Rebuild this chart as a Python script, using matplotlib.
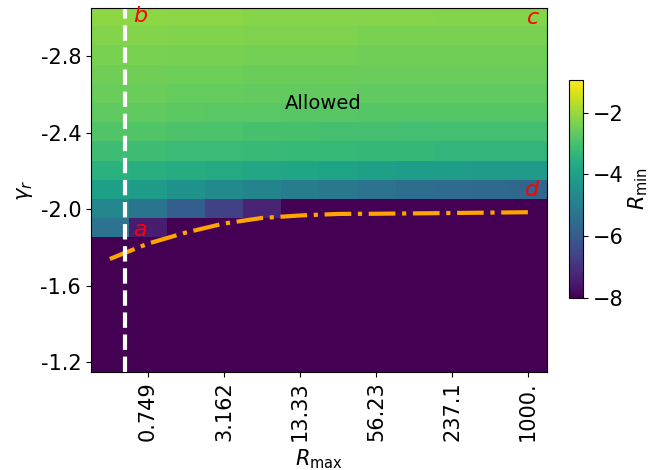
import matplotlib
matplotlib.use('Agg')
import matplotlib.pyplot as plt
import numpy as np

# grid axes: gamma_r rows (top to bottom) and R_max columns
gamma_r = [-3.0, -2.9, -2.8, -2.7, -2.6, -2.5, -2.4, -2.3, -2.2, -2.1,
           -2.0, -1.9, -1.8, -1.7, -1.6, -1.5, -1.4, -1.3, -1.2]
r_max_ticklabels = ['0.749', '3.162', '13.33', '56.23', '237.1', '1000.']
gamma_ticks = [-2.8, -2.4, -2.0, -1.6, -1.2]

# log10 R_min on the (gamma_r, R_max) grid, floored at -8
rmin_grid = [
    [-2.14, -2.14, -2.18, -2.18, -2.21, -2.21, -2.21, -2.21, -2.21, -2.25, -2.25, -2.25],
    [-2.25, -2.25, -2.28, -2.28, -2.31, -2.31, -2.31, -2.35, -2.35, -2.35, -2.35, -2.35],
    [-2.35, -2.35, -2.39, -2.39, -2.42, -2.42, -2.42, -2.46, -2.46, -2.46, -2.46, -2.46],
    [-2.46, -2.46, -2.49, -2.49, -2.53, -2.53, -2.53, -2.56, -2.56, -2.56, -2.56, -2.56],
    [-2.56, -2.56, -2.60, -2.60, -2.63, -2.63, -2.63, -2.67, -2.67, -2.67, -2.67, -2.67],
    [-2.67, -2.67, -2.71, -2.74, -2.74, -2.78, -2.78, -2.81, -2.81, -2.81, -2.81, -2.81],
    [-2.85, -2.85, -2.92, -2.95, -2.99, -2.99, -3.02, -3.02, -3.06, -3.06, -3.06, -3.06],
    [-3.13, -3.13, -3.20, -3.20, -3.24, -3.27, -3.27, -3.31, -3.31, -3.34, -3.34, -3.34],
    [-3.48, -3.55, -3.62, -3.69, -3.76, -3.83, -3.91, -3.98, -4.05, -4.05, -4.12, -4.12],
    [-3.98, -4.12, -4.40, -4.61, -4.82, -5.03, -5.18, -5.32, -5.46, -5.53, -5.60, -5.67],
    [-4.75, -5.25, -5.90, -6.60, -7.30, -8.00, -8.00, -8.00, -8.00, -8.00, -8.00, -8.00],
    [-5.30, -7.45, -8.00, -8.00, -8.00, -8.00, -8.00, -8.00, -8.00, -8.00, -8.00, -8.00],
    [-8.00, -8.00, -8.00, -8.00, -8.00, -8.00, -8.00, -8.00, -8.00, -8.00, -8.00, -8.00],
    [-8.00, -8.00, -8.00, -8.00, -8.00, -8.00, -8.00, -8.00, -8.00, -8.00, -8.00, -8.00],
    [-8.00, -8.00, -8.00, -8.00, -8.00, -8.00, -8.00, -8.00, -8.00, -8.00, -8.00, -8.00],
    [-8.00, -8.00, -8.00, -8.00, -8.00, -8.00, -8.00, -8.00, -8.00, -8.00, -8.00, -8.00],
    [-8.00, -8.00, -8.00, -8.00, -8.00, -8.00, -8.00, -8.00, -8.00, -8.00, -8.00, -8.00],
    [-8.00, -8.00, -8.00, -8.00, -8.00, -8.00, -8.00, -8.00, -8.00, -8.00, -8.00, -8.00],
    [-8.00, -8.00, -8.00, -8.00, -8.00, -8.00, -8.00, -8.00, -8.00, -8.00, -8.00, -8.00],
]

# boundary gamma_r(R_max) of the allowed region, one value per column
boundary_gamma = [-1.740, -1.820, -1.878, -1.925, -1.954, -1.967,
                  -1.975, -1.976, -1.978, -1.980, -1.982, -1.984]

# R_max column index of the vertical cut
r_cut = 0.395

grid = np.array(rmin_grid)
n_rows, n_cols = grid.shape
dg = gamma_r[1] - gamma_r[0]

fig = plt.figure(figsize=(6.49, 4.70), dpi=100)
ax = fig.add_axes([0.140, 0.2085, 0.703, 0.7745])
cax = fig.add_axes([0.877, 0.366, 0.021, 0.464])

im = ax.imshow(grid, cmap='viridis', vmin=-8, vmax=-0.94, aspect='auto',
               origin='upper', interpolation='nearest',
               extent=[-0.5, n_cols - 0.5, gamma_r[-1] + dg / 2, gamma_r[0] - dg / 2])

ax.plot(np.arange(n_cols), boundary_gamma, color='orange', lw=3, ls='-.')
ax.axvline(r_cut, color='white', lw=3, ls='--')

ax.text(5.62, -2.55, 'Allowed', fontsize=14, ha='center', va='center')
ax.text(0.6, -1.89, '$a$', color='red', fontsize=16, va='center')
ax.text(0.6, -3.01, '$b$', color='red', fontsize=16, va='center')
ax.text(10.95, -3.0, '$c$', color='red', fontsize=16, va='center')
ax.text(10.9, -2.1, '$d$', color='red', fontsize=16, va='center')

ax.set_xticks(np.arange(1, n_cols, 2))
ax.set_xticklabels(r_max_ticklabels, rotation=90, fontsize=15)
ax.set_yticks(gamma_ticks)
ax.set_yticklabels(['%.1f' % g for g in gamma_ticks], fontsize=15)
ax.set_xlabel(r'$R_{\max}$', fontsize=15)
ax.set_ylabel(r'$\gamma_r$', fontsize=15)

cb = fig.colorbar(im, cax=cax, ticks=[-2, -4, -6, -8])
cb.ax.tick_params(labelsize=15)
cb.set_label(r'$R_{\min}$', fontsize=15, labelpad=2)

fig.savefig('out.png', dpi=100)
